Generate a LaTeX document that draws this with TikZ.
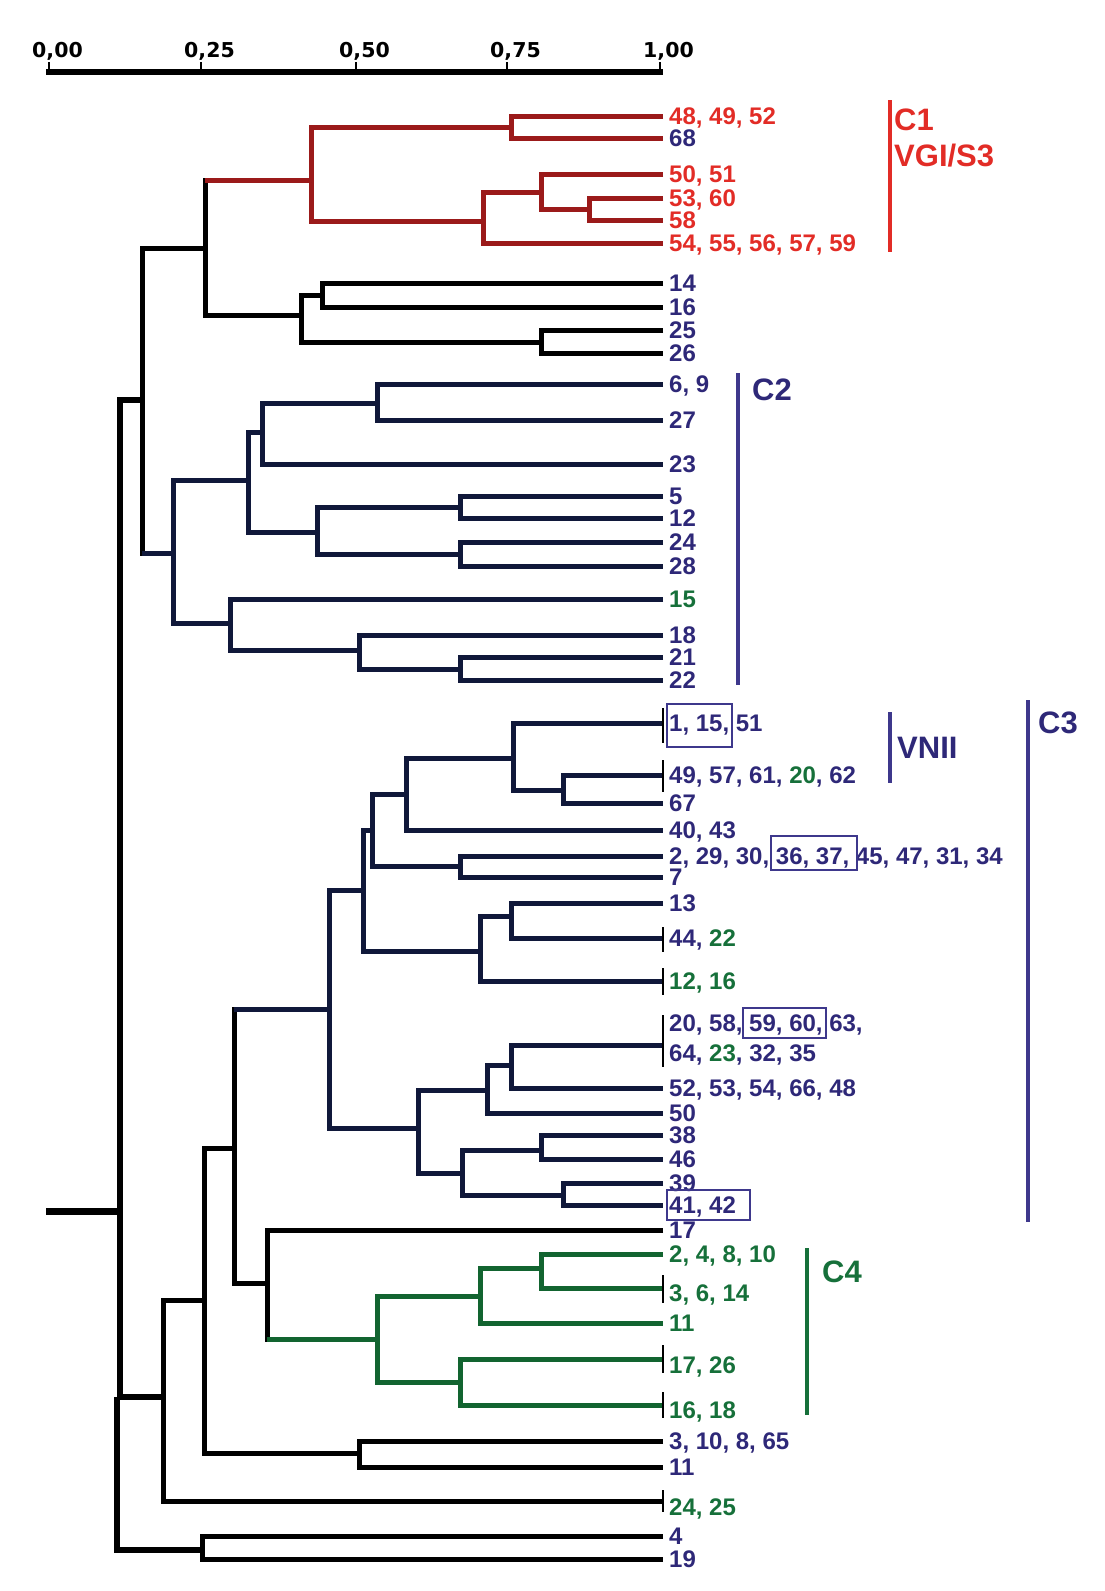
\documentclass[tikz,border=0pt]{standalone}
\usepackage{fontspec}
\setmainfont{Liberation Sans}
\newfontfamily\axisfont{DejaVu Sans}
\usepackage{tikz}
\definecolor{dnavy}{RGB}{16,24,58}
\definecolor{navytxt}{RGB}{46,40,120}
\definecolor{navybar}{RGB}{62,56,140}
\definecolor{cred}{RGB}{155,26,26}
\definecolor{redtxt}{RGB}{226,44,38}
\definecolor{cgreen}{RGB}{18,100,48}
\definecolor{greentxt}{RGB}{22,112,58}
\newcommand{\gr}[1]{\textcolor{greentxt}{#1}}

\begin{document}
\begin{tikzpicture}[x=1pt,y=-1pt,
  br/.style={line width=5pt},
  tie/.style={line width=2.5pt},
  grp/.style={line width=3.5pt},
  lbl/.style={anchor=base west,inner sep=0pt,xshift=6pt,yshift=-8.6pt,text=navytxt,
    font=\fontsize{24}{28}\selectfont\bfseries},
  grplbl/.style={anchor=west,inner sep=0pt,font=\fontsize{31}{34}\selectfont\bfseries},
  hlbox/.style={draw=navybar,line width=2pt},
  axlbl/.style={anchor=base west,inner sep=0pt,font=\axisfont\bfseries\fontsize{20.5}{24}\selectfont}]
\useasboundingbox (0,0) rectangle (1104,1591);

% Scale bar
\draw[line width=5.5pt] (46,72) -- (663,72);
\foreach \x/\t in {49/{0,00},201/{0,25},356/{0,50},507/{0,75},660/{1,00}}{
  \draw[line width=2pt] (\x,72) -- (\x,62);
  \node[axlbl] at (\x-17,57) {\t};
}

% Leaves: C1
\coordinate (a48) at (663,116); \node[lbl,text=redtxt] (ta48) at (a48) {48, 49, 52};
\coordinate (a68) at (663,138); \node[lbl] (ta68) at (a68) {68};
\coordinate (a50) at (663,174); \node[lbl,text=redtxt] (ta50) at (a50) {50, 51};
\coordinate (a53) at (663,198); \node[lbl,text=redtxt] (ta53) at (a53) {53, 60};
\coordinate (a58) at (663,220); \node[lbl,text=redtxt] (ta58) at (a58) {58};
\coordinate (a54) at (663,243); \node[lbl,text=redtxt] (ta54) at (a54) {54, 55, 56, 57, 59};

% Leaves: 14 - 26
\coordinate (b14) at (663,283); \node[lbl] (tb14) at (b14) {14};
\coordinate (b16) at (663,307); \node[lbl] (tb16) at (b16) {16};
\coordinate (b25) at (663,330); \node[lbl] (tb25) at (b25) {25};
\coordinate (b26) at (663,353); \node[lbl] (tb26) at (b26) {26};

% Leaves: C2
\coordinate (c6) at (663,384); \node[lbl] (tc6) at (c6) {6, 9};
\coordinate (c27) at (663,420); \node[lbl] (tc27) at (c27) {27};
\coordinate (c23) at (663,464); \node[lbl] (tc23) at (c23) {23};
\coordinate (c5) at (663,496); \node[lbl] (tc5) at (c5) {5};
\coordinate (c12) at (663,518); \node[lbl] (tc12) at (c12) {12};
\coordinate (c24) at (663,542); \node[lbl] (tc24) at (c24) {24};
\coordinate (c28) at (663,566); \node[lbl] (tc28) at (c28) {28};
\coordinate (c15) at (663,599); \node[lbl,text=greentxt] (tc15) at (c15) {15};
\coordinate (c18) at (663,635); \node[lbl] (tc18) at (c18) {18};
\coordinate (c21) at (663,657); \node[lbl] (tc21) at (c21) {21};
\coordinate (c22) at (663,680); \node[lbl] (tc22) at (c22) {22};

% Leaves: C3
\coordinate (d1) at (663,723); \node[lbl] (td1) at (d1) {1, 15, 51};
\coordinate (d49) at (663,775); \node[lbl] (td49) at (d49) {49, 57, 61, \gr{20}, 62};
\coordinate (d67) at (663,803); \node[lbl] (td67) at (d67) {67};
\coordinate (d40) at (663,830); \node[lbl] (td40) at (d40) {40, 43};
\coordinate (d2) at (663,856); \node[lbl] (td2) at (d2) {2, 29, 30, 36, 37, 45, 47, 31, 34};
\coordinate (d7) at (663,877); \node[lbl] (td7) at (d7) {7};
\coordinate (d13) at (663,903); \node[lbl] (td13) at (d13) {13};
\coordinate (d44) at (663,938); \node[lbl] (td44) at (d44) {44, \gr{22}};
\coordinate (d12) at (663,981); \node[lbl,text=greentxt] (td12) at (d12) {12, 16};
\coordinate (d20) at (663,1045);
\node[lbl,yshift=22pt] (td20) at (d20) {20, 58, 59, 60, 63,};
\node[lbl,yshift=-8pt] (td64) at (d20) {64, \gr{23}, 32, 35};
\coordinate (d52) at (663,1088); \node[lbl] (td52) at (d52) {52, 53, 54, 66, 48};
\coordinate (d50) at (663,1113); \node[lbl] (td50) at (d50) {50};
\coordinate (d38) at (663,1135); \node[lbl] (td38) at (d38) {38};
\coordinate (d46) at (663,1159); \node[lbl] (td46) at (d46) {46};
\coordinate (d39) at (663,1183); \node[lbl] (td39) at (d39) {39};
\coordinate (d41) at (663,1205); \node[lbl] (td41) at (d41) {41, 42};
\coordinate (e17) at (663,1230); \node[lbl] (te17) at (e17) {17};

% Leaves: C4
\coordinate (f2) at (663,1254); \node[lbl,text=greentxt] (tf2) at (f2) {2, 4, 8, 10};
\coordinate (f3) at (663,1288); \node[lbl,text=greentxt,yshift=-5pt] (tf3) at (f3) {3, 6, 14};
\coordinate (f11) at (663,1323); \node[lbl,text=greentxt] (tf11) at (f11) {11};
\coordinate (f17) at (663,1359); \node[lbl,text=greentxt,yshift=-6pt] (tf17) at (f17) {17, 26};
\coordinate (f16) at (663,1405); \node[lbl,text=greentxt,yshift=-5pt] (tf16) at (f16) {16, 18};

% Leaves: bottom
\coordinate (g3) at (663,1441); \node[lbl] (tg3) at (g3) {3, 10, 8, 65};
\coordinate (g11) at (663,1467); \node[lbl] (tg11) at (g11) {11};
\coordinate (g24) at (663,1501); \node[lbl,text=greentxt,yshift=-6pt] (tg24) at (g24) {24, 25};
\coordinate (g4) at (663,1536); \node[lbl] (tg4) at (g4) {4};
\coordinate (g19) at (663,1559); \node[lbl] (tg19) at (g19) {19};

% Joins
\coordinate (ja1) at (511,127);  \coordinate (ja2) at (589,209);
\coordinate (ja3) at (541,192);  \coordinate (ja4) at (483,221);
\coordinate (jC1) at (311,180);
\coordinate (jb1) at (322,295);  \coordinate (jb2) at (541,342);
\coordinate (jb3) at (301,315);  \coordinate (jtop) at (205,248);
\coordinate (jc1) at (377,403);  \coordinate (jc2) at (262,432);
\coordinate (jc3) at (460,507);  \coordinate (jc4) at (460,554);
\coordinate (jc5) at (317,532);  \coordinate (jc6) at (248,480);
\coordinate (jc7) at (460,669);  \coordinate (jc8) at (359,650);
\coordinate (jc9) at (230,623);  \coordinate (jC2) at (173,553);
\coordinate (jup) at (142,400);
\coordinate (jd1) at (563,790);  \coordinate (jd2) at (513,758);
\coordinate (jd3) at (406,794);  \coordinate (jd4) at (460,866);
\coordinate (jd5) at (372,830);  \coordinate (jd6) at (511,916);
\coordinate (jd7) at (480,951);  \coordinate (jd8) at (363,890);
\coordinate (jd9) at (511,1065); \coordinate (jd10) at (487,1090);
\coordinate (jd11) at (541,1150); \coordinate (jd12) at (563,1195);
\coordinate (jd13) at (462,1173); \coordinate (jd14) at (418,1128);
\coordinate (jC3) at (329,1009);
\coordinate (jf1) at (541,1268); \coordinate (jf2) at (480,1296);
\coordinate (jf3) at (460,1382); \coordinate (jC4) at (377,1339);
\coordinate (je) at (267,1283);  \coordinate (jmid) at (234,1148);
\coordinate (jg1) at (359,1453); \coordinate (jlow) at (204,1300);
\coordinate (jlow2) at (163,1397); \coordinate (jall) at (120,1211);
\coordinate (jbot) at (117,1397); \coordinate (jg2) at (202,1550);
\coordinate (stub) at (46,1211);

% C1 branches
\draw[br,cred] (a48) -| (ja1) |- (a68);
\draw[br,cred] (a53) -| (ja2) |- (a58);
\draw[br,cred] (a50) -| (ja3) |- (ja2);
\draw[br,cred] (ja3) -| (ja4) |- (a54);
\draw[br,cred] (ja1) -| (jC1) |- (ja4);

% 14 - 26 branches
\draw[br] (b14) -| (jb1) |- (b16);
\draw[br] (b25) -| (jb2) |- (b26);
\draw[br] (jb1) -| (jb3) |- (jb2);
\draw[br] (jC1) -| (jtop) |- (jb3);
\draw[br,cred] (jC1) -- (jC1 -| jtop);

% C2 branches
\draw[br,dnavy] (c6) -| (jc1) |- (c27);
\draw[br,dnavy] (jc1) -| (jc2) |- (c23);
\draw[br,dnavy] (c5) -| (jc3) |- (c12);
\draw[br,dnavy] (c24) -| (jc4) |- (c28);
\draw[br,dnavy] (jc3) -| (jc5) |- (jc4);
\draw[br,dnavy] (jc2) -| (jc6) |- (jc5);
\draw[br,dnavy] (c21) -| (jc7) |- (c22);
\draw[br,dnavy] (c18) -| (jc8) |- (jc7);
\draw[br,dnavy] (c15) -| (jc9) |- (jc8);
\draw[br,dnavy] (jc6) -| (jC2) |- (jc9);
\draw[br] (jtop) -| (jup) |- (jC2);
\draw[br,dnavy] (jC2) -- (jC2 -| jup);

% C3 branches
\draw[br,dnavy] (d49) -| (jd1) |- (d67);
\draw[br,dnavy] (d1) -| (jd2) |- (jd1);
\draw[br,dnavy] (jd2) -| (jd3) |- (d40);
\draw[br,dnavy] (d2) -| (jd4) |- (d7);
\draw[br,dnavy] (jd3) -| (jd5) |- (jd4);
\draw[br,dnavy] (d13) -| (jd6) |- (d44);
\draw[br,dnavy] (jd6) -| (jd7) |- (d12);
\draw[br,dnavy] (jd5) -| (jd8) |- (jd7);
\draw[br,dnavy] (d20) -| (jd9) |- (d52);
\draw[br,dnavy] (jd9) -| (jd10) |- (d50);
\draw[br,dnavy] (d38) -| (jd11) |- (d46);
\draw[br,dnavy] (d39) -| (jd12) |- (d41);
\draw[br,dnavy] (jd11) -| (jd13) |- (jd12);
\draw[br,dnavy] (jd10) -| (jd14) |- (jd13);
\draw[br,dnavy] (jd8) -| (jC3) |- (jd14);

% C4 branches
\draw[br,cgreen] (f2) -| (jf1) |- (f3);
\draw[br,cgreen] (jf1) -| (jf2) |- (f11);
\draw[br,cgreen] (f17) -| (jf3) |- (f16);
\draw[br,cgreen] (jf2) -| (jC4) |- (jf3);

% lower part
\draw[br] (e17) -| (je) |- (jC4);
\draw[br,cgreen] (jC4) -- (jC4 -| je);
\draw[br] (jC3) -| (jmid) |- (je);
\draw[br,dnavy] (jC3) -- (jC3 -| jmid);
\draw[br] (g3) -| (jg1) |- (g11);
\draw[br] (jmid) -| (jlow) |- (jg1);
\draw[br] (jlow) -| (jlow2) |- (g24);
\draw[br,line width=6pt] (jup) -| (jall) |- (jlow2);
\draw[br] (g4) -| (jg2) |- (g19);
\draw[br,line width=6pt] (jbot) |- (jg2);
\draw[line width=7pt] (jall) -- (stub);

% ties at leaf ends
\draw[tie] ([yshift=15pt]d1) -- ([yshift=-20pt]d1);
\draw[tie] ([yshift=15pt]d49) -- ([yshift=-17pt]d49);
\draw[tie] ([yshift=11pt]d44) -- ([yshift=-14pt]d44);
\draw[tie] ([yshift=13pt]d12) -- ([yshift=-14pt]d12);
\draw[tie] ([yshift=30pt]d20) -- ([yshift=-22pt]d20);
\draw[tie] ([yshift=13pt]f3) -- ([yshift=-15pt]f3);
\draw[tie] ([yshift=14pt]f17) -- ([yshift=-14pt]f17);
\draw[tie] ([yshift=13pt]f16) -- ([yshift=-13pt]f16);
\draw[tie] ([yshift=11pt]g24) -- ([yshift=-11pt]g24);

% boxed isolates
\draw[hlbox] (667,704) rectangle (732,747);
\draw[hlbox] (771,836) rectangle (857,870);
\draw[hlbox] (743,1008) rectangle (826,1038);
\draw[hlbox] (667,1190) rectangle (750,1220);

% Groups
\draw[grp,redtxt] (890,100) -- (890,252);
\node[grplbl,text=redtxt] (gC1) at (894,120) {C1};
\node[grplbl,text=redtxt] (gVGI) at (894,156) {VGI/S3};
\draw[grp,navybar] (738,373) -- (738,685);
\node[grplbl,text=navytxt] (gC2) at (752,390) {C2};
\draw[grp,navybar] (890,712) -- (890,783);
\node[grplbl,text=navytxt] (gVNII) at (897,748) {VNII};
\draw[grp,navybar] (1028,700) -- (1028,1222);
\node[grplbl,text=navytxt] (gC3) at (1038,723) {C3};
\draw[grp,greentxt] (807,1248) -- (807,1415);
\node[grplbl,text=greentxt] (gC4) at (822,1272) {C4};
\end{tikzpicture}
\end{document}
